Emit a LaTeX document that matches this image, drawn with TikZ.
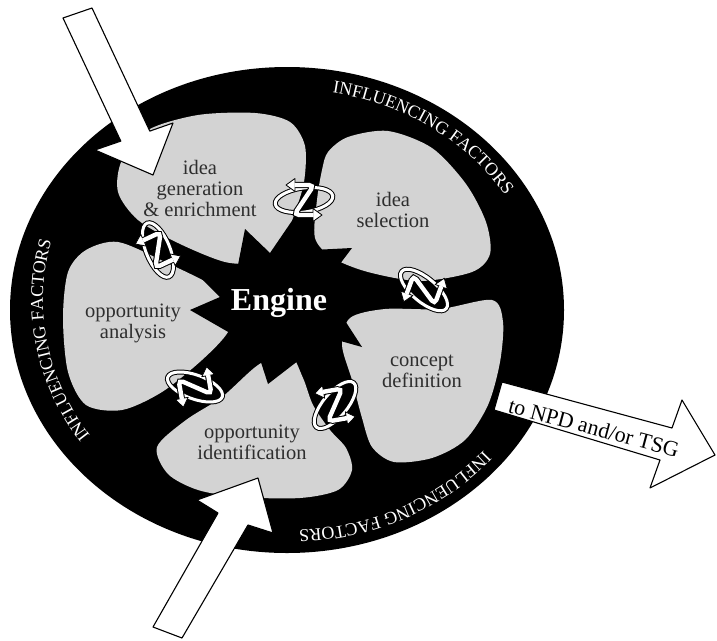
\documentclass[tikz,border=0pt]{standalone}
\usepackage{fontspec}
\setmainfont{Liberation Serif}
\usetikzlibrary{decorations.text}
\definecolor{lobegray}{HTML}{D3D3D3}
\definecolor{lobetext}{HTML}{2E2E2E}
\tikzset{
  lobe/.style={fill=lobegray},
  lobelabel/.style={text=lobetext, align=center, inner sep=0pt, font=\fontsize{20.5}{21}\selectfont},
  bigarrow/.style={fill=white, draw=black, line width=1.1pt, line join=round},
  ringtext/.style={decorate, decoration={text along path, text align=center, text color=white,
      text={|\fontsize{18}{18}\selectfont|INFLUENCING FACTORS}}},
}
% rotating-arrows icon: x, y, ring angle, Z angle
\newcommand\rotarr[4]{%
  \begin{scope}[shift={(#1,#2)}]
    \begin{scope}[rotate=#3]
      \draw[black, line width=5] (0,0) ellipse [x radius=29, y radius=12];
      \draw[white, line width=3] (0,0) ellipse [x radius=29, y radius=12];
    \end{scope}
    \begin{scope}[rotate=#4]
      \draw[black, line width=6.4, rounded corners=5] (-9,-15) -- (10,-15) -- (-10,15) -- (9,15);
      \filldraw[fill=white, draw=black, line width=0.8, line join=round] (-18,-15) -- (-9,-21.5) -- (-9,-8.5) -- cycle;
      \filldraw[fill=white, draw=black, line width=0.8, line join=round] (18,15) -- (9,21.5) -- (9,8.5) -- cycle;
      \draw[white, line width=4.4, rounded corners=5] (-9.6,-15) -- (10,-15) -- (-10,15) -- (9.6,15);
    \end{scope}
  \end{scope}}
\begin{document}
\begin{tikzpicture}[x=1pt,y=-1pt]
\useasboundingbox (0,0) rectangle (717,640);
\fill[white] (0,0) rectangle (717,640);
% outer black disc
\fill[black] (287,310) ellipse [x radius=277, y radius=243];
% ring texts
\path[ringtext] plot[domain=-90:-20, samples=80] ({288+254*cos(\x)},{310+220.5*sin(\x)});
\path[ringtext] plot[domain=134:205, samples=80] ({288+245*cos(\x)},{300+230*sin(\x)});
\path[ringtext] plot[domain=27:99, samples=80] ({288+254*cos(\x)},{310+220.5*sin(\x)});
% lobes
\fill[lobe] plot[smooth cycle] coordinates {(118,192) (122,160) (148,130) (198,115) (255,113) (290,122) (305,146) (304,182) (294,215) (282,245) (258,262) (225,262) (178,243) (138,220)};
\fill[lobe] plot[smooth cycle] coordinates {(328,152) (348,137) (388,131) (432,148) (466,184) (486,222) (490,254) (472,272) (420,281) (368,272) (333,258) (315,238) (317,200) (322,170)};
\fill[lobe] plot[smooth cycle] coordinates {(350,318) (385,309) (440,309) (492,300) (503,322) (500,362) (488,405) (465,440) (432,458) (394,462) (372,447) (362,418) (352,380) (342,345)};
\fill[lobe] plot[smooth cycle] coordinates {(157,447) (168,474) (198,490) (240,497) (300,498) (338,490) (352,470) (346,448) (330,430) (313,405) (303,378) (288,352) (258,365) (222,397) (186,420)};
\fill[lobe] plot[smooth cycle] coordinates {(68,272) (86,250) (118,242) (165,262) (215,287) (232,307) (228,332) (202,360) (162,392) (122,410) (86,405) (68,372) (63,318)};
% star engine
\fill[black] (245,229) -- (270,253) -- (298,212) -- (313,250) -- (352,248) -- (330,277) -- (372,292) -- (340,313) -- (362,347) -- (337,340) -- (330,378) -- (303,357) -- (268,384) -- (258,353) -- (210,385) -- (230,333) -- (190,310) -- (220,297) -- (185,262) -- (237,270) -- cycle;
\node[font=\bfseries\fontsize{32}{32}\selectfont, text=white, inner sep=0pt, anchor=base] (engine) at (279,310) {Engine};
% lobe labels
\node[lobelabel] (gen) at (200,188) {idea\\generation\\\& enrichment};
\node[lobelabel] (sel) at (393,210) {idea\\selection};
\node[lobelabel] (con) at (422,371) {concept\\definition};
\node[lobelabel] (oid) at (252,442) {opportunity\\identification};
\node[lobelabel] (oan) at (133,323) {opportunity\\analysis};
% rotating arrow icons
\rotarr{304}{200}{8}{0}
\rotarr{424}{290}{-40}{70}
\rotarr{335}{405}{50}{10}
\rotarr{195}{387}{-20}{100}
\rotarr{158}{250}{112}{25}
% big arrows
\draw[bigarrow] (63,18) -- (120.8,141.1) -- (95,150) -- (153,175) -- (173,123) -- (149.8,131.1) -- (92,8) -- cycle;
\draw[bigarrow] (153,627) -- (218,513) -- (197,500) -- (258,478) -- (273,533) -- (248,525) -- (182,638) -- cycle;
\draw[bigarrow] (502,382) -- (672,428) -- (682,400) -- (715,455) -- (650,488) -- (660,460) -- (494,410) -- cycle;
\node[rotate=-15, anchor=base, inner sep=0pt, font=\fontsize{22}{22}\selectfont] (npd) at (592,435) {to NPD and/or TSG};
\end{tikzpicture}
\end{document}
